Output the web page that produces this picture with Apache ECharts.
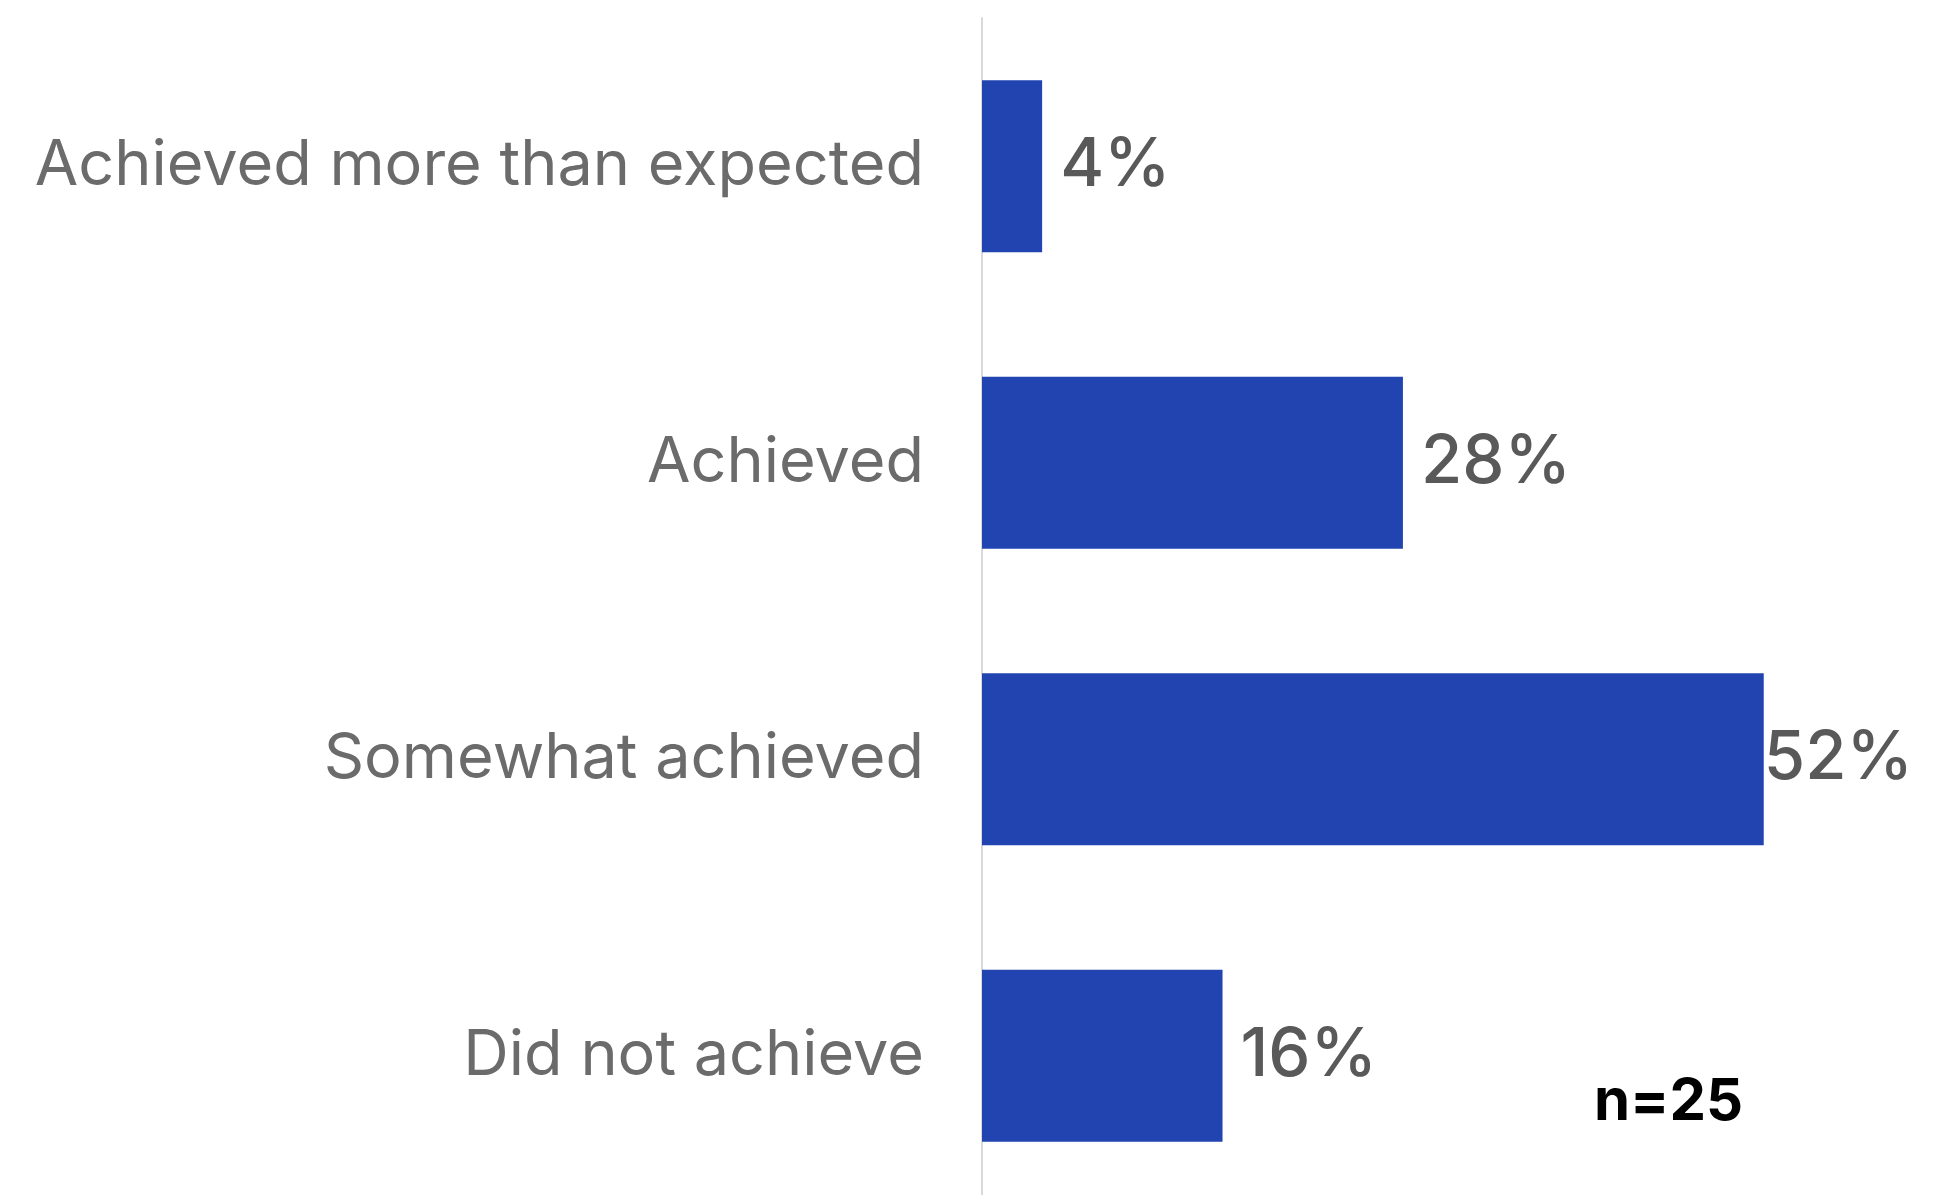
<!DOCTYPE html>
<html>
<head>
<meta charset="utf-8">
<script src="https://cdn.jsdelivr.net/npm/echarts@6/dist/echarts.min.js"></script>
<style>
html,body{margin:0;padding:0;background:#fff;}
#chart{width:1947px;height:1195px;}
</style>
</head>
<body>
<div id="chart"></div>
<script>
const categories = ["Achieved more than expected", "Achieved", "Somewhat achieved", "Did not achieve"];
const values = [4, 28, 52, 16];
const sampleNote = "n=25";

const chart = echarts.init(document.getElementById('chart'), null, {renderer: 'canvas'});
const maxVal = Math.max(...values);
chart.setOption({
  animation: false,
  backgroundColor: '#ffffff',
  grid: {left: 982, width: 902, top: 18, height: 1186, containLabel: false, outerBoundsMode: 'none'},
  xAxis: {
    type: 'value', min: 0, max: 60,
    show: false
  },
  yAxis: {
    type: 'category', data: categories, inverse: true,
    axisLine: {show: true, lineStyle: {color: '#d9d9d9', width: 2}},
    axisTick: {show: false},
    splitLine: {show: false},
    axisLabel: {
      color: '#6b6b6b', fontFamily: 'Inter', fontSize: 63, margin: 58,
      padding: [6, 0, 0, 0]
    }
  },
  series: [{
    type: 'bar',
    barWidth: '58%',
    itemStyle: {color: '#2144b0'},
    data: values.map(v => ({
      value: v,
      label: {distance: v === maxVal ? 0 : 18}
    })),
    label: {
      show: true, position: 'right',
      formatter: p => p.value + '%',
      color: '#595959', fontFamily: 'Inter', fontWeight: 500, fontSize: 67,
      padding: [2, 0, 0, 0]
    }
  }],
  title: {
    text: sampleNote, left: 1589, top: 1069,
    textStyle: {color: '#000', fontFamily: 'Inter', fontWeight: 'bold', fontSize: 58}
  }
});
</script>
</body>
</html>
